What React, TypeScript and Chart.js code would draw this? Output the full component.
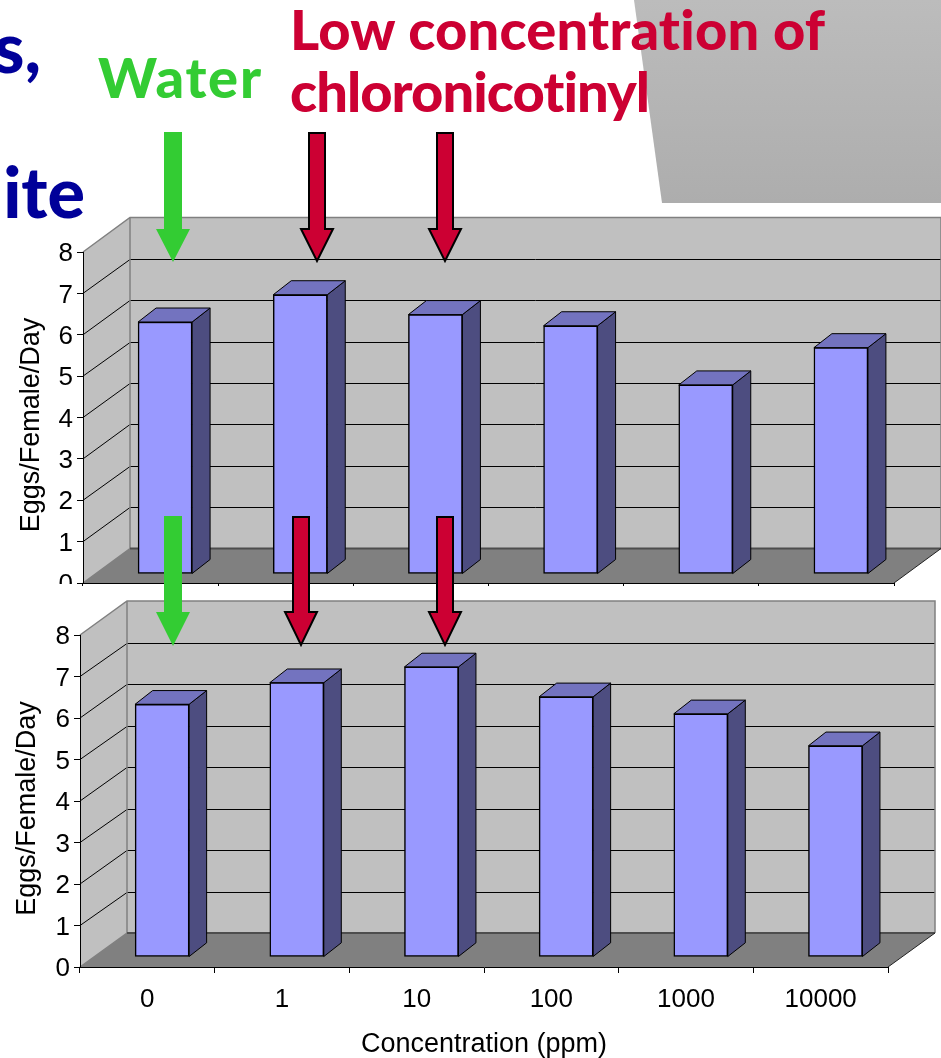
import React, { useEffect, useRef } from "react";
import { Chart, registerables } from "chart.js";

Chart.register(...registerables);

const categories = ["0", "1", "10", "100", "1000", "10000"];
const upperEggs = [6.09, 6.75, 6.27, 6.0, 4.57, 5.47];
const lowerEggs = [6.09, 6.61, 6.99, 6.27, 5.86, 5.09];
const yMax = 8;
const yTitle = "Eggs/Female/Day  ";
const xTitle = "Concentration (ppm)";

const FRONT = "#9999FF";
const SIDE = "#4D4D80";
const TOP = "#7373BF";
const WALL = "#C0C0C0";
const FLOOR = "#808080";
const RED = "#CC0033";
const GREEN = "#33CC33";
const NAVY = "#000099";
const FONT = "'Liberation Sans', Arial, sans-serif";
const HAND = "'Comic Sans MS', 'Lato', 'Open Sans', sans-serif";

type Geo = {
  top: number; height: number; left: number; chartTop: number; right: number; axisH: number;
  dx: number; dy: number; barDx: number; barDy: number; sideDx: number; sideDy: number;
  barW: number; showX: boolean; titlePad: number; tickPad: number;
};

function makePlugin(g: Geo) {
  return {
    id: "depth3d",
    beforeDraw(chart: any) {
      const { ctx, chartArea: a, scales } = chart;
      const y = scales.y;
      const L = a.left, R = a.right;
      const p0 = y.getPixelForValue(0), p8 = y.getPixelForValue(yMax);
      ctx.save();
      ctx.fillStyle = WALL;
      ctx.beginPath();
      ctx.moveTo(L, p8); ctx.lineTo(L + g.dx, p8 + g.dy); ctx.lineTo(R + g.dx, p8 + g.dy);
      ctx.lineTo(R + g.dx, p0 + g.dy); ctx.lineTo(L + g.dx, p0 + g.dy); ctx.lineTo(L, p0);
      ctx.closePath(); ctx.fill();
      ctx.fillStyle = FLOOR;
      ctx.beginPath();
      ctx.moveTo(L, p0); ctx.lineTo(R, p0); ctx.lineTo(R + g.dx, p0 + g.dy); ctx.lineTo(L + g.dx, p0 + g.dy);
      ctx.closePath(); ctx.fill();
      ctx.strokeStyle = "#000";
      ctx.lineWidth = 1;
      for (const t of y.ticks) {
        if (t.value === 0 || t.value === yMax) continue;
        const py = y.getPixelForValue(t.value);
        const by = Math.round(py + g.dy) + 0.5;
        ctx.beginPath();
        ctx.moveTo(L, py); ctx.lineTo(L + g.dx, by); ctx.lineTo(R + g.dx, by);
        ctx.stroke();
      }
      ctx.strokeStyle = FLOOR;
      ctx.lineWidth = 1.5;
      ctx.beginPath();
      ctx.moveTo(L, p8); ctx.lineTo(L + g.dx, p8 + g.dy); ctx.lineTo(R + g.dx, p8 + g.dy); ctx.lineTo(R + g.dx, p0 + g.dy);
      ctx.moveTo(L + g.dx, p8 + g.dy); ctx.lineTo(L + g.dx, p0 + g.dy); ctx.lineTo(L, p0);
      ctx.stroke();
      ctx.strokeStyle = "#4D4D4D";
      ctx.lineWidth = 2;
      ctx.beginPath();
      ctx.moveTo(L + g.dx, p0 + g.dy); ctx.lineTo(R + g.dx, p0 + g.dy);
      ctx.stroke();
      ctx.strokeStyle = "#222";
      ctx.lineWidth = 1;
      ctx.beginPath();
      ctx.moveTo(R, p0); ctx.lineTo(R + g.dx, p0 + g.dy);
      ctx.stroke();
      ctx.restore();
    },
    beforeDatasetDraw(chart: any, args: any) {
      const { ctx } = chart;
      ctx.save();
      ctx.translate(g.barDx, g.barDy);
      ctx.strokeStyle = "#000";
      ctx.lineWidth = 1;
      ctx.lineJoin = "round";
      for (const el of args.meta.data) {
        const { x, y, base, width } = el.getProps(["x", "y", "base", "width"], true);
        const r = x + width / 2, l = x - width / 2;
        ctx.fillStyle = SIDE;
        ctx.beginPath();
        ctx.moveTo(r, y); ctx.lineTo(r + g.sideDx, y + g.sideDy); ctx.lineTo(r + g.sideDx, base + g.sideDy); ctx.lineTo(r, base);
        ctx.closePath(); ctx.fill(); ctx.stroke();
        ctx.fillStyle = TOP;
        ctx.beginPath();
        ctx.moveTo(l, y); ctx.lineTo(l + g.sideDx, y + g.sideDy); ctx.lineTo(r + g.sideDx, y + g.sideDy); ctx.lineTo(r, y);
        ctx.closePath(); ctx.fill(); ctx.stroke();
      }
    },
    afterDatasetDraw(chart: any) {
      chart.ctx.restore();
    },
  };
}

function build(canvas: HTMLCanvasElement, values: number[], g: Geo) {
  return new Chart(canvas, {
    type: "bar",
    data: {
      labels: categories,
      datasets: [{
        data: values,
        backgroundColor: FRONT,
        borderColor: "#000",
        borderWidth: 1.5,
        borderSkipped: false,
        barThickness: g.barW,
        clip: false,
      } as any],
    },
    plugins: [makePlugin(g)],
    options: {
      responsive: false,
      animation: false,
      maintainAspectRatio: false,
      layout: { padding: { top: g.chartTop, right: g.right, left: 0, bottom: 0 } },
      plugins: { legend: { display: false }, tooltip: { enabled: false }, title: { display: false } },
      scales: {
        x: {
          type: "category",
          offset: true,
          afterFit: (s: any) => { s.height = g.axisH; },
          grid: { display: true, drawOnChartArea: false, drawTicks: true, tickLength: 6, color: "#000", offset: true },
          border: { color: "#000", width: 1 },
          ticks: { display: g.showX, color: "#000", padding: 11, maxRotation: 0, autoSkip: false, font: { family: FONT, size: 26 } },
          title: { display: g.showX, text: xTitle, color: "#000", font: { family: FONT, size: 27, lineHeight: 1 }, padding: { top: 0, bottom: 0 } },
        },
        y: {
          min: 0,
          max: yMax,
          afterFit: (s: any) => { s.width = g.left; },
          grid: { display: true, drawOnChartArea: false, drawTicks: true, tickLength: 6, color: "#000" },
          border: { color: "#000", width: 1 },
          ticks: { stepSize: 1, color: "#000", padding: g.tickPad, labelOffset: 2, font: { family: FONT, size: 26 } },
          title: { display: true, text: yTitle, color: "#000", font: { family: FONT, size: 27 }, padding: { top: g.titlePad, bottom: 0 } },
        },
      },
    } as any,
  });
}

const upperGeo: Geo = {
  top: 0, height: 623, left: 83, chartTop: 252, right: 47, axisH: 40,
  dx: 47, dy: -34.5, barDx: 14.5, barDy: -9, sideDx: 18, sideDy: -14,
  barW: 54, showX: false, titlePad: 15, tickPad: 4,
};
const lowerGeo: Geo = {
  top: 586, height: 472, left: 80, chartTop: 49, right: 53, axisH: 91,
  dx: 47, dy: -34, barDx: 14.8, barDy: -10, sideDx: 17.5, sideDy: -13.7,
  barW: 54, showX: true, titlePad: 11, tickPad: 4,
};

function Arrow({ cx, top, baseY, tip, half, headHalf, color, outline }: any) {
  const d = [
    [cx - half, top], [cx + half, top], [cx + half, baseY], [cx + headHalf, baseY],
    [cx, tip], [cx - headHalf, baseY], [cx - half, baseY],
  ].map((p) => p.join(",")).join(" ");
  return <polygon points={d} fill={color} stroke={outline ? "#000" : "none"} strokeWidth={outline ? 2 : 0} />;
}

export default function App() {
  const a = useRef<HTMLCanvasElement>(null);
  const b = useRef<HTMLCanvasElement>(null);
  useEffect(() => {
    const c1 = build(a.current!, upperEggs, upperGeo);
    const c2 = build(b.current!, lowerEggs, lowerGeo);
    return () => { c1.destroy(); c2.destroy(); };
  }, []);
  return (
    <div style={{ position: "absolute", left: 0, top: 0, width: 941, height: 1058, overflow: "hidden", background: "#fff" }}>
      <canvas ref={a} width={941} height={upperGeo.height} style={{ position: "absolute", left: 0, top: upperGeo.top, display: "block" }} />
      <div style={{ position: "absolute", left: 0, top: 584, width: 80, height: 10, background: "#fff" }} />
      <canvas ref={b} width={941} height={lowerGeo.height} style={{ position: "absolute", left: 0, top: lowerGeo.top, display: "block", background: "#fff" }} />
      <svg width={941} height={1058} style={{ position: "absolute", left: 0, top: 0, pointerEvents: "none" }}>
        <defs>
          <linearGradient id="panel" x1="0" y1="0" x2="0" y2="1">
            <stop offset="0" stopColor="#BCBCBC" />
            <stop offset="1" stopColor="#ADADAD" />
          </linearGradient>
        </defs>
        <polygon points="634,0 662,203 941,203 941,0" fill="url(#panel)" />
        <g fontFamily={HAND} fontWeight={900} style={{ fontVariantLigatures: "none" }}>
          <text x={85} y={218} fontSize={70} fill={NAVY} textAnchor="end">mite</text>
          <text x={41} y={73} fontSize={70} fill={NAVY} textAnchor="end">s,</text>
          <text x={98} y={98} fontSize={56} fill={GREEN} textLength={163} lengthAdjust="spacing">Water</text>
          <text x={290} y={50} fontSize={56} fill={RED} textLength={535} lengthAdjust="spacing">Low concentration of</text>
          <text x={290} y={112} fontSize={56} fill={RED} textLength={360} lengthAdjust="spacing">chloronicotinyl</text>
        </g>
        <Arrow cx={173} top={132} baseY={229} tip={262} half={9} headHalf={17} color={GREEN} />
        <Arrow cx={317} top={133} baseY={229} tip={261} half={8} headHalf={16} color={RED} outline />
        <Arrow cx={445} top={133} baseY={229} tip={261} half={8} headHalf={16} color={RED} outline />
        <Arrow cx={173} top={516} baseY={612} tip={646} half={9} headHalf={17} color={GREEN} />
        <Arrow cx={301} top={517} baseY={612} tip={645} half={8} headHalf={16} color={RED} outline />
        <Arrow cx={445} top={517} baseY={612} tip={645} half={8} headHalf={16} color={RED} outline />
      </svg>
    </div>
  );
}
